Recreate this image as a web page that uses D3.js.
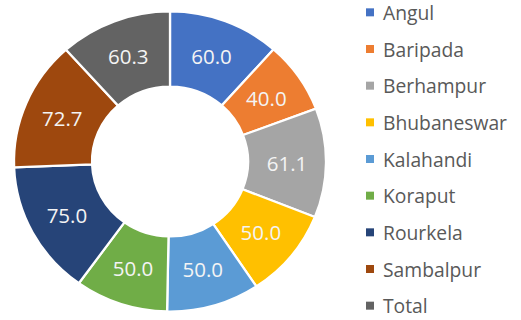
<!DOCTYPE html>
<html>
<head>
<meta charset="utf-8">
<script src="https://cdn.jsdelivr.net/npm/d3@7"></script>
<style>
  html, body { margin: 0; padding: 0; background: #fff; }
  svg { display: block; }
</style>
</head>
<body>
<svg id="chart" width="521" height="320"></svg>
<script>
// Share of each centre (the ring also carries the overall Total)
const categories = ["Angul", "Baripada", "Berhampur", "Bhubaneswar", "Kalahandi", "Koraput", "Rourkela", "Sambalpur", "Total"];
const values = [60.0, 40.0, 61.1, 50.0, 50.0, 50.0, 75.0, 72.7, 60.3];
const colors = ["#4472C4", "#ED7D31", "#A5A5A5", "#FFC000", "#5B9BD5", "#70AD47", "#264478", "#9E480E", "#636363"];

const data = categories.map((c, i) => ({ name: c, value: values[i], color: colors[i] }));

const svg = d3.select("#chart");
const cx = 170, cy = 161.5;
const outerR = 150, innerR = 75;
const sx = 1.04; // ring is drawn slightly wider than tall

const pie = d3.pie().sort(null).value(d => d.value);
const arc = d3.arc().innerRadius(innerR).outerRadius(outerR);
const arcs = pie(data);

const ring = svg.append("g")
  .attr("transform", `translate(${cx},${cy}) scale(${sx},1)`);

ring.selectAll("path")
  .data(arcs)
  .join("path")
  .attr("d", arc)
  .attr("fill", d => d.data.color)
  .attr("stroke", "#fff")
  .attr("stroke-width", 2.2);

// Value labels at slice centroids
svg.append("g")
  .selectAll("text")
  .data(arcs)
  .join("text")
  .attr("x", d => cx + arc.centroid(d)[0] * sx)
  .attr("y", d => cy + arc.centroid(d)[1])
  .attr("text-anchor", "middle")
  .attr("dominant-baseline", "central")
  .attr("font-family", "'Open Sans', sans-serif")
  .attr("font-size", 20.5)
  .attr("fill", "#f4f4f4")
  .text(d => d.data.value.toFixed(1));

// Legend
const legend = d3.scaleBand().domain(categories).range([-6, 324]);
const items = svg.append("g")
  .selectAll("g")
  .data(data)
  .join("g")
  .attr("transform", d => `translate(366,${legend(d.name) + legend.bandwidth() / 2})`);

items.append("rect")
  .attr("x", 0).attr("y", -4)
  .attr("width", 8).attr("height", 8)
  .attr("fill", d => d.color);

items.append("text")
  .attr("x", 17)
  .attr("y", 0)
  .attr("dominant-baseline", "central")
  .attr("font-family", "'Open Sans', sans-serif")
  .attr("font-size", 19.3)
  .attr("fill", "#595959")
  .text(d => d.name);
</script>
</body>
</html>
